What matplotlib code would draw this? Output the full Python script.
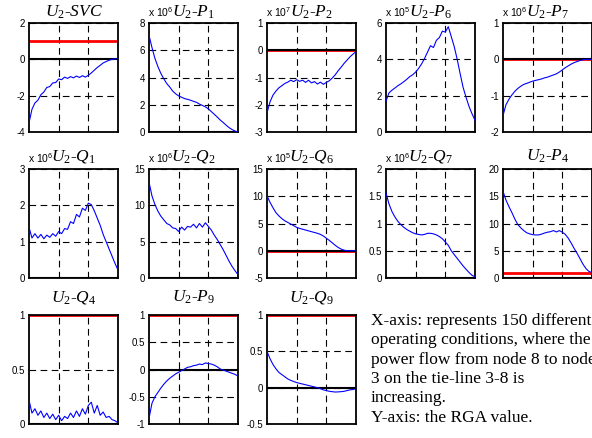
import matplotlib
matplotlib.use("Agg")
import matplotlib.pyplot as plt

plt.rcParams['font.family'] = ['Liberation Sans', 'DejaVu Sans']
plt.rcParams['mathtext.fontset'] = 'custom'
plt.rcParams['mathtext.rm'] = 'Liberation Serif'
plt.rcParams['mathtext.it'] = 'Liberation Serif:italic'
plt.rcParams['mathtext.sf'] = 'Liberation Sans'
plt.rcParams['axes.unicode_minus'] = False

# operating conditions (x axis), sampled every 5 of the 150 cases
x = list(range(0, 151, 5))

svc = [-3.5, -2.75, -2.4, -2.25, -1.95, -1.8, -1.55, -1.5, -1.3, -1.28, -1.08, -1.12, -0.98,
       -1.05, -0.95, -1.02, -0.92, -1.0, -0.9, -0.98, -0.88, -0.75, -0.6, -0.45, -0.33, -0.2,
       -0.12, -0.05, 0.0, 0.02, 0.05]
p1 = [7.1, 6.2, 5.4, 4.8, 4.3, 3.9, 3.55, 3.3, 3.0, 2.8, 2.65, 2.55, 2.45, 2.4, 2.33, 2.25,
      2.18, 2.05, 1.95, 1.85, 1.7, 1.5, 1.3, 1.1, 0.88, 0.7, 0.5, 0.32, 0.18, 0.07, 0.0]
p2 = [-2.3, -1.9, -1.65, -1.5, -1.38, -1.3, -1.22, -1.17, -1.1, -1.15, -1.08, -1.14, -1.1,
      -1.18, -1.1, -1.2, -1.15, -1.24, -1.17, -1.25, -1.18, -1.12, -1.02, -0.9, -0.75, -0.62,
      -0.48, -0.36, -0.24, -0.14, -0.05]
p6 = [1.7, 2.15, 2.3, 2.42, 2.55, 2.65, 2.77, 2.9, 3.05, 3.15, 3.3, 3.5, 3.75, 4.05, 4.4, 4.75,
      4.65, 5.05, 5.2, 5.55, 5.5, 5.8, 5.25, 4.7, 4.0, 3.2, 2.45, 1.9, 1.4, 1.0, 0.65]
p7 = [-1.55, -1.25, -1.1, -0.98, -0.88, -0.8, -0.74, -0.69, -0.66, -0.63, -0.6, -0.58, -0.56,
      -0.54, -0.51, -0.49, -0.46, -0.43, -0.4, -0.35, -0.29, -0.23, -0.18, -0.13, -0.09, -0.06,
      -0.03, -0.01, 0.0, 0.0, 0.0]
q1 = [1.4, 1.1, 1.22, 1.1, 1.2, 1.08, 1.18, 1.12, 1.22, 1.15, 1.28, 1.22, 1.36, 1.34, 1.55,
      1.5, 1.75, 1.68, 1.92, 1.86, 2.06, 2.02, 1.85, 1.65, 1.45, 1.2, 1.0, 0.8, 0.6, 0.4, 0.22]
q2 = [13.2, 11.3, 10.1, 9.2, 8.5, 8.0, 7.5, 7.3, 6.9, 6.8, 6.4, 7.0, 6.6, 7.1, 7.0, 7.4, 6.9,
      7.5, 7.0, 7.6, 7.1, 6.6, 5.9, 5.3, 4.6, 3.9, 3.1, 2.3, 1.6, 1.0, 0.45]
q6 = [10.1, 8.9, 7.9, 7.0, 6.4, 5.9, 5.5, 5.2, 4.9, 4.6, 4.3, 4.1, 3.95, 3.8, 3.65, 3.5, 3.35,
      3.2, 3.0, 2.7, 2.3, 1.9, 1.45, 1.0, 0.6, 0.3, 0.1, 0.0, 0.0, 0.0, 0.0]
q7 = [1.56, 1.36, 1.22, 1.12, 1.04, 0.98, 0.93, 0.89, 0.86, 0.83, 0.81, 0.8, 0.79, 0.8, 0.82,
      0.82, 0.81, 0.79, 0.76, 0.72, 0.66, 0.6, 0.5, 0.43, 0.36, 0.29, 0.22, 0.16, 0.1, 0.05, 0.02]
p4 = [15.9, 14.3, 13.1, 12.0, 10.8, 9.8, 9.2, 8.7, 8.3, 8.1, 7.95, 7.9, 7.9, 8.05, 8.25, 8.4,
      8.5, 8.7, 8.45, 8.7, 8.4, 8.0, 7.3, 6.4, 5.4, 4.5, 3.5, 2.5, 1.7, 1.2, 1.0]
q4 = [0.22, 0.1, 0.14, 0.08, 0.12, 0.06, 0.1, 0.05, 0.09, 0.04, 0.08, 0.03, 0.07, 0.05, 0.1,
      0.06, 0.12, 0.07, 0.14, 0.09, 0.17, 0.2, 0.1, 0.17, 0.08, 0.11, 0.06, 0.07, 0.04, 0.03, 0.01]
p9 = [-0.9, -0.62, -0.5, -0.42, -0.34, -0.27, -0.21, -0.16, -0.12, -0.08, -0.05, -0.02, 0.01,
      0.04, 0.05, 0.07, 0.08, 0.1, 0.09, 0.12, 0.11, 0.1, 0.08, 0.05, 0.01, -0.01, -0.03, -0.05,
      -0.07, -0.09, -0.12]
q9 = [0.5, 0.4, 0.32, 0.26, 0.21, 0.18, 0.15, 0.12, 0.1, 0.085, 0.07, 0.06, 0.05, 0.04, 0.03,
      0.02, 0.01, 0.0, -0.015, -0.03, -0.04, -0.05, -0.055, -0.06, -0.058, -0.055, -0.05, -0.04,
      -0.03, -0.025, -0.015]

titles = ['SVC', 'P_1', 'P_2', 'P_6', 'P_7', 'Q_1', 'Q_2', 'Q_6', 'Q_7', 'P_4', 'Q_4', 'P_9', 'Q_9']
series = [svc, p1, p2, p6, p7, q1, q2, q6, q7, p4, q4, p9, q9]
exponents = [0, 6, 7, 5, 6, 6, 6, 5, 6, 0, 0, 0, 0]
yticks = [[-4, -2, 0, 2], [0, 2, 4, 6, 8], [-3, -2, -1, 0, 1], [0, 2, 4, 6], [-2, -1, 0, 1],
          [0, 1, 2, 3], [0, 5, 10, 15], [-5, 0, 5, 10, 15], [0, 0.5, 1, 1.5, 2],
          [0, 5, 10, 15, 20], [0, 0.5, 1], [-1, -0.5, 0, 0.5, 1], [-0.5, 0, 0.5, 1]]

W, H = 592, 438
fig = plt.figure(figsize=(W / 100, H / 100), dpi=100)

col_left = [29, 149, 267, 386, 503]
row_top = [23, 169, 315]
title_pad = [4.3, 6.0, 9.6]
aw, ah = 89, 109

for i, (name, y, ex, yt) in enumerate(zip(titles, series, exponents, yticks)):
    r, c = divmod(i, 5)
    ax = fig.add_axes([col_left[c] / W, 1 - (row_top[r] + ah) / H, aw / W, ah / H])
    scale = 10.0 ** ex
    ax.axhline(1 / scale, color='red', lw=2.0, zorder=2)
    ax.axhline(0, color='black', lw=1.5, zorder=3)
    ax.plot(x, y, color='blue', lw=0.8, zorder=4)
    ax.set_xlim(0, 150)
    ax.set_ylim(yt[0], yt[-1])
    ax.set_xticks([50, 100])
    ax.set_xticklabels([])
    ax.set_yticks(yt)
    ax.set_yticklabels(['%g' % v for v in yt])
    ax.tick_params(length=0, labelsize=7, pad=3)
    ax.grid(True, color='black', linestyle=(0, (6, 4)), lw=0.8)
    for s in ax.spines.values():
        s.set_linewidth(1.3)
    label = r'$U_2$-$%s$' % name
    ax.set_title(label, fontsize=12.5, family='Liberation Serif', pad=title_pad[r])
    if ex:
        ax.text(-0.015, 1 + 6 / ah, r'x 10$^{\mathsf{%d}}$' % ex, transform=ax.transAxes,
                fontsize=7.5, va='baseline', ha='left')

note = ['X-axis: represents 150 different',
        'operating conditions, where the',
        'power flow from node 8 to node',
        '3 on the tie-line 3-8 is',
        'increasing.',
        'Y-axis: the RGA value.']
for k, line in enumerate(note):
    fig.text(371 / W, 1 - (325 + 19.3 * k) / H, line, fontsize=12.5,
             family='Liberation Serif', va='baseline', ha='left')

fig.savefig('out.png', dpi=100)
